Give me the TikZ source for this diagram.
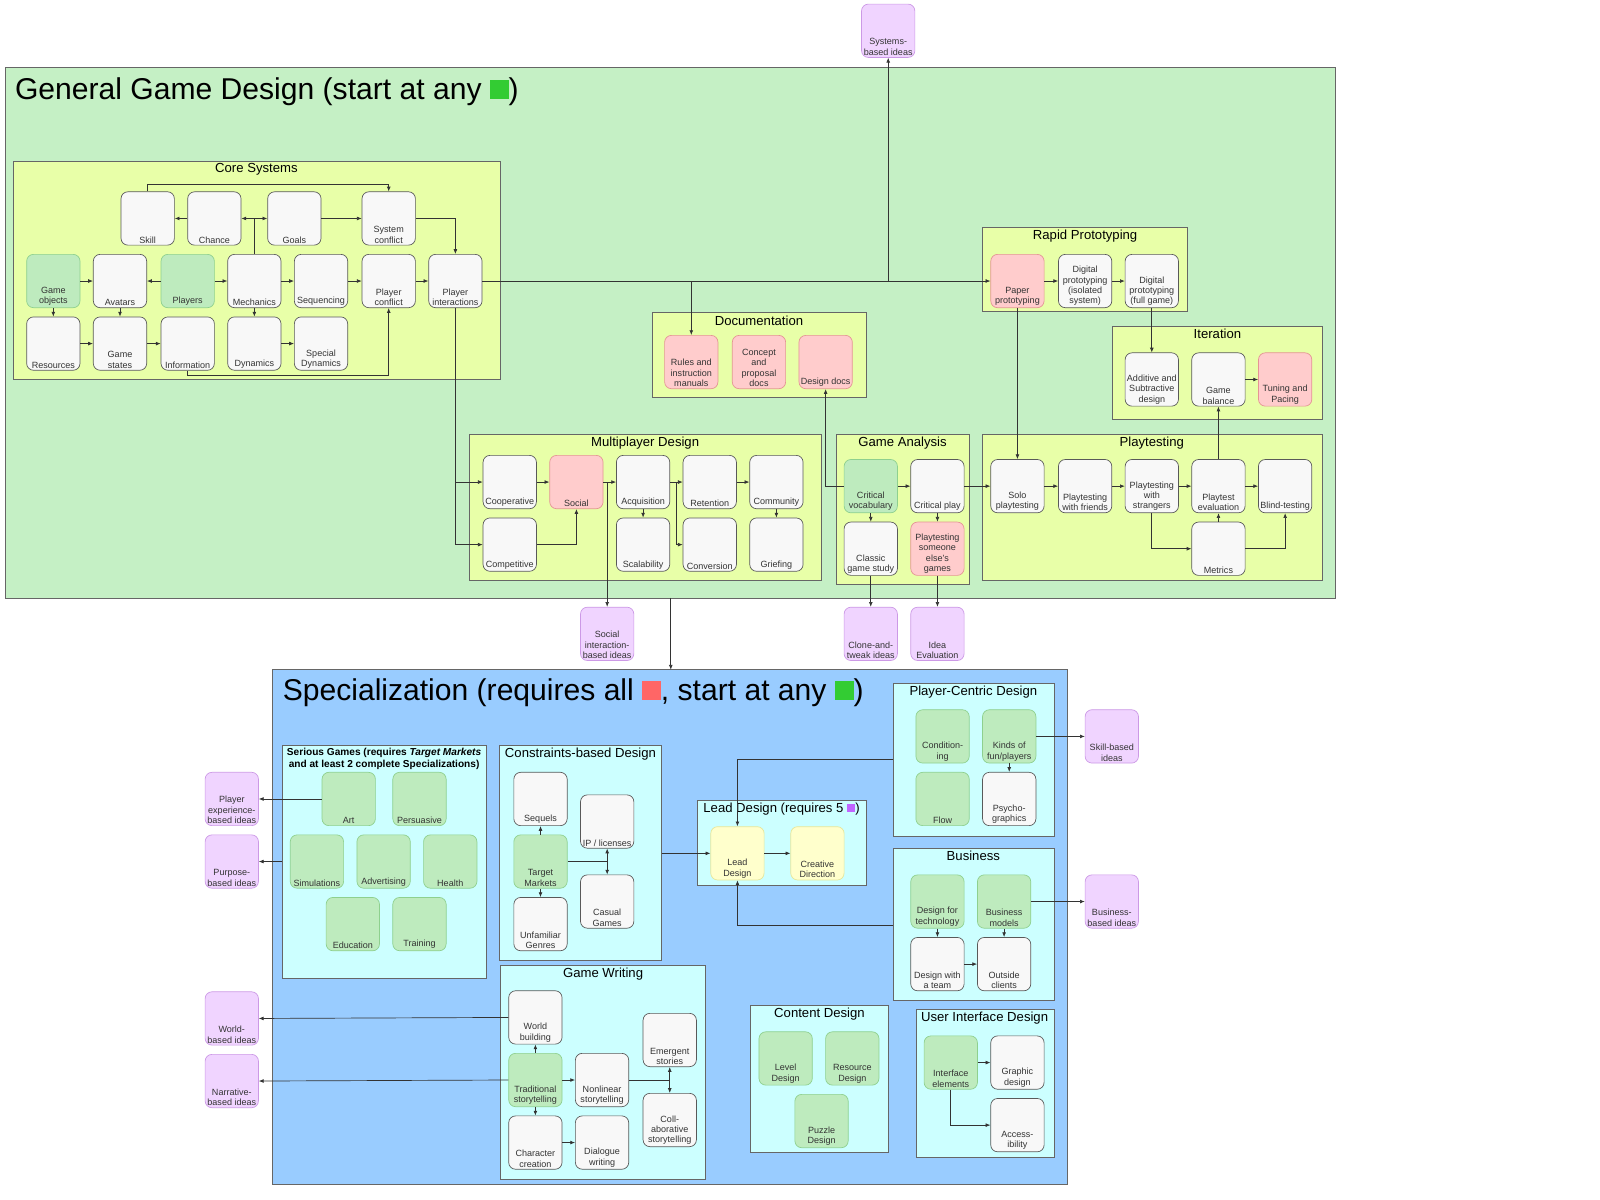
\documentclass[tikz,border=0pt]{standalone}
\usepackage{fontspec}
\setmainfont{Liberation Sans}
\usetikzlibrary{arrows.meta,calc}
\definecolor{gbg}{HTML}{C5F0C5}
\definecolor{lime}{HTML}{E8FFA8}
\definecolor{cyanbg}{HTML}{CCFFFF}
\definecolor{bluebg}{HTML}{99CCFF}
\definecolor{wfill}{HTML}{F8F8F8}
\definecolor{gfill}{HTML}{BEEBBE}
\definecolor{gline}{HTML}{8ED08E}
\definecolor{pfill}{HTML}{FFCCCC}
\definecolor{pline}{HTML}{E49494}
\definecolor{vfill}{HTML}{F0D4FF}
\definecolor{vline}{HTML}{CC99E6}
\definecolor{yfill}{HTML}{FFFFCC}
\definecolor{yline}{HTML}{E6E699}
\definecolor{sqg}{HTML}{33CC33}
\definecolor{sqr}{HTML}{FF6666}
\definecolor{sqv}{HTML}{C066FF}
\definecolor{txt}{HTML}{333333}
\tikzset{
 cell/.style={draw=black!65,fill=wfill,rounded corners=5pt,minimum width=39pt,minimum height=39pt,inner sep=0pt,line width=0.5pt},
 wt/.style={},
 gr/.style={fill=gfill,draw=gline},
 pk/.style={fill=pfill,draw=pline},
 vi/.style={fill=vfill,draw=vline},
 ye/.style={fill=yfill,draw=yline},
 lbl/.style={anchor=south,align=center,font=\fontsize{6.6}{7.6}\selectfont,text=txt,inner sep=1.5pt},
 cont/.style={draw=black!60,line width=0.5pt},
 ctitle/.style={font=\fontsize{9.6}{11}\selectfont,anchor=north,inner sep=1pt},
 arr/.style={draw=black!80,line width=0.5pt,-{Latex[length=3.5pt,width=2.8pt]}},
 ln/.style={draw=black!80,line width=0.5pt}
}
\newcommand\bx[5]{\node[cell,#4,label={[lbl]south:{#5}}] (#1) at (#2,#3) {};}
\newcommand\sqbox[1]{\textcolor{#1}{\rule{0.62em}{0.62em}}}
\begin{document}
\begin{tikzpicture}[x=0.75pt,y=-0.75pt]
\useasboundingbox[fill=white] (0,0) rectangle (1560,1170);
% general
\draw[cont,fill=gbg] (5,66) rectangle (1302,583);
\node[anchor=west,font=\fontsize{22}{25}\selectfont] (gtitle) at (10,89) {General Game Design (start at any \sqbox{sqg})};
\draw[cont,fill=lime] (13,157) rectangle (488,370);
\node[ctitle] (tcore) at (250,158) {Core Systems};
\draw[cont,fill=lime] (636,305) rectangle (845,387);
\node[ctitle] (tdoc) at (740,306) {Documentation};
\draw[cont,fill=lime] (958,222) rectangle (1158,304);
\node[ctitle] (trp) at (1058,223) {Rapid Prototyping};
\draw[cont,fill=lime] (1085,318) rectangle (1289,409);
\node[ctitle] (tit) at (1187,319) {Iteration};
\draw[cont,fill=lime] (958,423) rectangle (1289,566);
\node[ctitle] (tpt) at (1123,424) {Playtesting};
\draw[cont,fill=lime] (815,423) rectangle (945,570);
\node[ctitle] (tga) at (880,424) {Game Analysis};
\draw[cont,fill=lime] (458,423) rectangle (801,566);
\node[ctitle] (tmp) at (629,424) {Multiplayer Design};
% core
\bx{skill}{144}{213}{wt}{Skill}
\bx{chance}{209}{213}{wt}{Chance}
\bx{goals}{287}{213}{wt}{Goals}
\bx{sysc}{379}{213}{wt}{System\\conflict}
\bx{gobj}{52}{274}{gr}{Game\\objects}
\bx{avat}{117}{274}{wt}{Avatars}
\bx{players}{183}{274}{gr}{Players}
\bx{mech}{248}{274}{wt}{Mechanics}
\bx{seq}{313}{274}{wt}{Sequencing}
\bx{pconf}{379}{274}{wt}{Player\\conflict}
\bx{pint}{444}{274}{wt}{Player\\interactions}
\bx{res}{52}{335}{wt}{Resources}
\bx{gst}{117}{335}{wt}{Game\\states}
\bx{info}{183}{335}{wt}{Information}
\bx{dyn}{248}{335}{wt}{Dynamics}
\bx{sdyn}{313}{335}{wt}{Special\\Dynamics}
% doc
\bx{rules}{674}{353}{pk}{Rules and\\instruction\\manuals}
\bx{concept}{740}{353}{pk}{Concept\\and\\proposal\\docs}
\bx{ddocs}{805}{353}{pk}{Design docs}
% rapid
\bx{paper}{992}{274}{pk}{Paper\\prototyping}
\bx{digi}{1058}{274}{wt}{Digital\\prototyping\\(isolated\\system)}
\bx{digf}{1123}{274}{wt}{Digital\\prototyping\\(full game)}
% iteration
\bx{addsub}{1123}{370}{wt}{Additive and\\Subtractive\\design}
\bx{gbal}{1188}{370}{wt}{Game\\balance}
\bx{tune}{1253}{370}{pk}{Tuning and\\Pacing}
% playtesting
\bx{solo}{992}{474}{wt}{Solo\\playtesting}
\bx{friends}{1058}{474}{wt}{Playtesting\\with friends}
\bx{strang}{1123}{474}{wt}{Playtesting\\with\\strangers}
\bx{peval}{1188}{474}{wt}{Playtest\\evaluation}
\bx{blind}{1253}{474}{wt}{Blind-testing}
\bx{metrics}{1188}{535}{wt}{Metrics}
% analysis
\bx{cvoc}{849}{474}{gr}{Critical\\vocabulary}
\bx{cplay}{914}{474}{wt}{Critical play}
\bx{classic}{849}{535}{wt}{Classic\\game study}
\bx{someone}{914}{535}{pk}{Playtesting\\someone\\else's\\games}
% multiplayer
\bx{coop}{497}{470}{wt}{Cooperative}
\bx{social}{562}{470}{pk}{Social}
\bx{acq}{627}{470}{wt}{Acquisition}
\bx{ret}{692}{470}{wt}{Retention}
\bx{comm}{757}{470}{wt}{Community}
\bx{comp}{497}{531}{wt}{Competitive}
\bx{scal}{627}{531}{wt}{Scalability}
\bx{conv}{692}{531}{wt}{Conversion}
\bx{grief}{757}{531}{wt}{Griefing}
% ideas top
\bx{sysideas}{866}{30}{vi}{Systems-\\based ideas}
\bx{socideas}{592}{618}{vi}{Social\\interaction-\\based ideas}
\bx{clone}{849}{618}{vi}{Clone-and-\\tweak ideas}
\bx{ideaeval}{914}{618}{vi}{Idea\\Evaluation}
% core edges
\draw[arr] (skill.north) -- ++(0,-7) -| (sysc.north);
\draw[arr] (chance) -- (skill);
\draw[ln] (mech.north) -- (mech.north |- chance.east);
\draw[arr] (mech.north |- chance.east) -- (chance.east);
\draw[arr] (mech.north |- chance.east) -- (goals.west);
\draw[arr] (goals) -- (sysc);
\draw[arr] (sysc.east) -| (pint.north);
\draw[arr] (gobj) -- (avat);
\draw[arr] (players) -- (avat);
\draw[arr] (players) -- (mech);
\draw[arr] (mech) -- (seq);
\draw[arr] (seq) -- (pconf);
\draw[arr] (pconf) -- (pint);
\draw[arr] (gobj) -- (res);
\draw[arr] (avat) -- (gst);
\draw[arr] (mech) -- (dyn);
\draw[arr] (res) -- (gst);
\draw[arr] (gst) -- (info);
\draw[arr] (dyn) -- (sdyn);
\draw[arr] (info.south) -- ++(0,5) -| (pconf.south);
% main line
\draw[arr] (pint.east) -- (paper.west);
\draw[arr] (rules.north |- pint.east) -- (rules.north);
\draw[arr] (sysideas.south |- pint.east) -- (sysideas.south);
\draw[arr] (pint.south) |- (coop.west);
\draw[arr] (pint.south) |- (comp.west);
% rapid / iteration / playtesting
\draw[arr] (paper) -- (digi);
\draw[arr] (digi) -- (digf);
\draw[arr] (digf.south) -- (addsub.north);
\draw[arr] (paper.south) -- (solo.north);
\draw[arr] (gbal) -- (tune);
\draw[arr] (solo) -- (friends);
\draw[arr] (friends) -- (strang);
\draw[arr] (strang) -- (peval);
\draw[arr] (peval) -- (blind);
\draw[arr] (strang.south) |- (metrics.west);
\draw[arr] (metrics) -- (peval);
\draw[arr] (metrics.east) -| (blind.south);
\draw[arr] (peval.north) -- (gbal.south);
% analysis
\draw[arr] (cvoc) -- (cplay);
\draw[arr] (cvoc) -- (classic);
\draw[arr] (cplay) -- (someone);
\draw[arr] (cplay) -- (solo);
\draw[arr] (cvoc.west) -| (ddocs.south);
\draw[arr] (classic) -- (clone);
\draw[arr] (someone) -- (ideaeval);
% multiplayer
\draw[arr] (coop) -- (social);
\draw[arr] (comp.east) -| (social.south);
\draw[arr] (social) -- (acq);
\draw[arr] (socideas.north |- social.east) -- (socideas.north);
\draw[arr] (acq) -- (ret);
\draw[arr] (acq) -- (scal);
\coordinate (acqr) at ($(acq.east)!0.5!(ret.west)$);
\draw[arr] (acqr) |- (conv.west);
\draw[arr] (ret) -- (comm);
\draw[arr] (comm) -- (grief);
% spec
\coordinate (gbot) at (654,583);
\coordinate (stop) at (654,653);
\draw[cont,fill=bluebg] (266,653) rectangle (1041,1155);
\draw[arr] (gbot) -- (stop);
\node[anchor=west,font=\fontsize{22}{25}\selectfont] (stitle) at (271,675) {Specialization (requires all \sqbox{sqr}, start at any \sqbox{sqg})};
\draw[cont,fill=cyanbg] (275,727) rectangle (474,954);
\node[ctitle,font=\fontsize{7.4}{8.6}\selectfont\bfseries,align=center] (tser) at (374.5,728) {Serious Games (requires \textit{Target Markets}\\and at least 2 complete Specializations)};
\draw[cont,fill=cyanbg] (487,727) rectangle (645,936);
\node[ctitle] (tcons) at (566,728) {Constraints-based Design};
\draw[cont,fill=cyanbg] (680,780) rectangle (845,863);
\node[ctitle] (tlead) at (762,781) {Lead Design (requires 5 \sqbox{sqv})};
\draw[cont,fill=cyanbg] (871,666) rectangle (1028,815);
\node[ctitle] (tpc) at (949,667) {Player-Centric Design};
\draw[cont,fill=cyanbg] (871,827) rectangle (1028,975);
\node[ctitle] (tbus) at (949,828) {Business};
\draw[cont,fill=cyanbg] (488,941) rectangle (688,1150);
\node[ctitle] (tgw) at (588,942) {Game Writing};
\draw[cont,fill=cyanbg] (732,980) rectangle (866,1124);
\node[ctitle] (tcd) at (799,981) {Content Design};
\draw[cont,fill=cyanbg] (893,984) rectangle (1028,1128);
\node[ctitle] (tui) at (960,985) {User Interface Design};
% serious
\bx{art}{340}{779}{gr}{Art}
\bx{pers}{409}{779}{gr}{Persuasive}
\bx{sim}{309}{840}{gr}{Simulations}
\bx{adv}{374}{840}{gr}{Advertising}
\bx{health}{439}{840}{gr}{Health}
\bx{edu}{344}{901}{gr}{Education}
\bx{train}{409}{901}{gr}{Training}
% constraints
\bx{sequels}{527}{779}{wt}{Sequels}
\bx{ip}{592}{801}{wt}{IP / licenses}
\bx{target}{527}{840}{gr}{Target\\Markets}
\bx{casual}{592}{879}{wt}{Casual\\Games}
\bx{unfam}{527}{901}{wt}{Unfamiliar\\Genres}
% lead
\bx{lead}{719}{832}{ye}{Lead\\Design}
\bx{creative}{797}{832}{ye}{Creative\\Direction}
% player centric
\bx{cond}{919}{718}{gr}{Condition-\\ing}
\bx{kinds}{984}{718}{gr}{Kinds of\\fun/players}
\bx{flow}{919}{779}{gr}{Flow}
\bx{psycho}{984}{779}{wt}{Psycho-\\graphics}
% business
\bx{dtech}{914}{879}{gr}{Design for\\technology}
\bx{bmod}{979}{879}{gr}{Business\\models}
\bx{team}{914}{940}{wt}{Design with\\a team}
\bx{clients}{979}{940}{wt}{Outside\\clients}
% writing
\bx{world}{522}{992}{wt}{World\\building}
\bx{trad}{522}{1053}{gr}{Traditional\\storytelling}
\bx{nonlin}{587}{1053}{wt}{Nonlinear\\storytelling}
\bx{charc}{522}{1114}{wt}{Character\\creation}
\bx{dial}{587}{1114}{wt}{Dialogue\\writing}
\bx{emerg}{653}{1014}{wt}{Emergent\\stories}
\bx{collab}{653}{1092}{wt}{Coll-\\aborative\\storytelling}
% content
\bx{level}{766}{1032}{gr}{Level\\Design}
\bx{resd}{831}{1032}{gr}{Resource\\Design}
\bx{puzzle}{801}{1093}{gr}{Puzzle\\Design}
% ui
\bx{iface}{927}{1036}{gr}{Interface\\elements}
\bx{graphic}{992}{1036}{wt}{Graphic\\design}
\bx{access}{992}{1097}{wt}{Access-\\ibility}
% ideas
\bx{pexp}{226}{779}{vi}{Player\\experience-\\based ideas}
\bx{purp}{226}{840}{vi}{Purpose-\\based ideas}
\bx{wideas}{226}{993}{vi}{World-\\based ideas}
\bx{nideas}{226}{1054}{vi}{Narrative-\\based ideas}
\bx{skideas}{1084}{718}{vi}{Skill-based\\ideas}
\bx{bideas}{1084}{879}{vi}{Business-\\based ideas}
% spec edges
\coordinate (serw) at (275,840);
\coordinate (conse) at (645,832);
\coordinate (pcw) at (871,740);
\coordinate (busw) at (871,902);
\draw[arr] (art.west) -- (pexp.east);
\draw[arr] (serw) -- (purp.east);
\draw[arr] (target) -- (sequels);
\draw[arr] (target) -- (unfam);
\draw[ln] (target.east) -- (target.east -| ip.south);
\draw[arr] (target.east -| ip.south) -- (ip.south);
\draw[arr] (target.east -| ip.south) -- (casual.north);
\draw[arr] (conse) -- (lead.west);
\draw[arr] (lead) -- (creative);
\draw[arr] (pcw) -| (lead.north);
\draw[arr] (busw) -| (lead.south);
\draw[arr] (kinds) -- (psycho);
\draw[arr] (kinds.east) -- (skideas.west);
\draw[arr] (dtech) -- (team);
\draw[arr] (bmod) -- (clients);
\draw[arr] (team) -- (clients);
\draw[arr] (bmod.east) -- (bideas.west);
\draw[arr] (trad) -- (world);
\draw[arr] (trad) -- (charc);
\draw[arr] (trad) -- (nonlin);
\draw[arr] (charc) -- (dial);
\draw[ln] (nonlin.east) -- (nonlin.east -| emerg.south);
\draw[arr] (nonlin.east -| emerg.south) -- (emerg.south);
\draw[arr] (nonlin.east -| emerg.south) -- (collab.north);
\draw[arr] (world.west) -- (wideas.east);
\draw[arr] (trad.west) -- (nideas.east);
\draw[arr] (iface) -- (graphic);
\draw[arr] (iface.south) |- (access.west);
\end{tikzpicture}
\end{document}
